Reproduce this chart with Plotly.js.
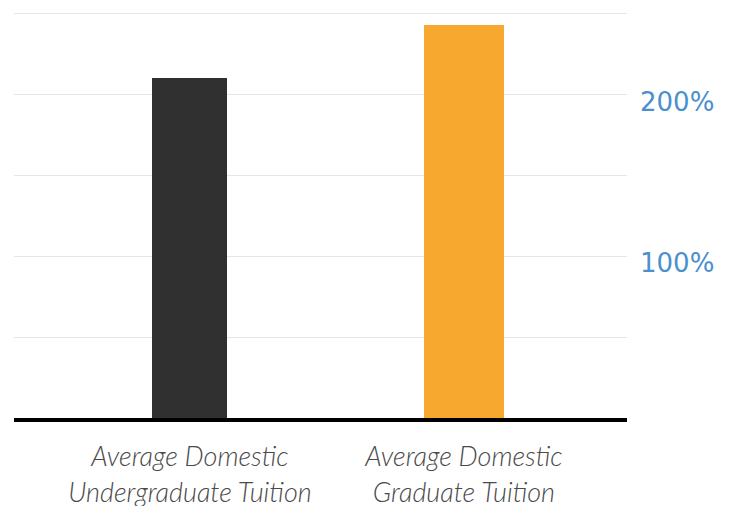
<!DOCTYPE html>
<html>
<head>
<meta charset="utf-8">
<script src="https://cdn.plot.ly/plotly-3.0.1.min.js"></script>
<style>html,body{margin:0;padding:0;background:#fff;}#chart{width:735px;height:506px;}</style>
</head>
<body>
<div id="chart"></div>
<script>
const categories = ["Average Domestic<br>Undergraduate Tuition", "Average Domestic<br>Graduate Tuition"];
const values = [210, 243];
const barColors = ["#303030", "#F7A82E"];
const barWidths = [0.274, 0.292];
const yTickVals = [100, 200];
const yTickText = ["100%", "200%"];

const trace = {
  type: "bar",
  x: [0, 1],
  y: values,
  width: barWidths,
  marker: {color: barColors},
  hoverinfo: "none"
};

const layout = {
  width: 735, height: 506,
  margin: {l: 14, r: 108, t: 12, b: 88},
  paper_bgcolor: "#fff", plot_bgcolor: "#fff",
  showlegend: false,
  bargap: 0,
  xaxis: {
    range: [-0.642, 1.595],
    tickvals: [0, 1],
    ticktext: categories,
    showgrid: false, zeroline: false,
    showline: true, linecolor: "#000", linewidth: 4,
    ticks: "", ticklabelstandoff: 12,
    tickfont: {family: "Lato", size: 27, color: "#4a4a4a", style: "italic", weight: 300}
  },
  yaxis: {
    range: [0, 251],
    side: "right",
    tickvals: yTickVals,
    ticktext: yTickText,
    showgrid: true, gridcolor: "#e6e6e6", gridwidth: 1,
    minor: {dtick: 50, showgrid: true, gridcolor: "#e6e6e6", gridwidth: 1},
    zeroline: false, showline: false, ticks: "",
    ticklabelshift: 7, ticklabelstandoff: 12,
    tickfont: {family: "DejaVu Sans", size: 26, color: "#4A8FCF"}
  }
};

Plotly.newPlot("chart", [trace], layout, {displayModeBar: false, staticPlot: true});
</script>
</body>
</html>
